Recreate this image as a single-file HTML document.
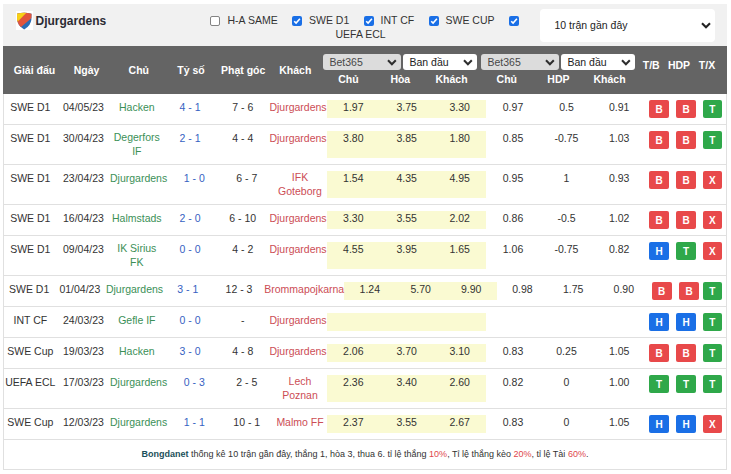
<!DOCTYPE html>
<html><head><meta charset="utf-8"><style>
html,body{margin:0;padding:0;background:#fff;width:731px;height:474px;overflow:hidden;position:relative;font-family:'Liberation Sans', sans-serif}
</style></head><body>
<div style="position:absolute;left:3px;top:4px;width:724px;height:42px;background:#f1f1f1"></div>
<div style="position:absolute;left:16px;top:11px;width:17px;height:19px;background:#fff"></div>
<svg style="position:absolute;left:0;top:0" width="40" height="34" viewBox="0 0 40 34">
<defs><clipPath id="sh"><path d="M17,13.8 Q24.2,11.6 31.5,13.8 L31.4,19.5 Q30.8,25.8 24.2,29.5 Q17.6,25.8 17.1,19.5 Z"/></clipPath></defs>
<g clip-path="url(#sh)">
<rect x="15" y="10" width="20" height="22" fill="#2a6db5"/>
<path d="M15,10 L35,10 L35,15.1 L15,32.1 Z" fill="#e2553c"/>
<path d="M15,10 L29.2,10 L15,24.2 Z" fill="#f7d117"/>
</g></svg>
<div style="position:absolute;left:35.5px;top:14px;font:bold 12px/14px 'Liberation Sans', sans-serif;color:#2b2b33;white-space:nowrap;">Djurgardens</div>
<div style="position:absolute;left:210px;top:16px;width:8px;height:8px;border:1px solid #838383;border-radius:2px;background:#fff"></div>
<div style="position:absolute;left:227.5px;top:14px;font:normal 10.5px/13.5px 'Liberation Sans', sans-serif;color:#333;white-space:nowrap;">H-A SAME</div>
<div style="position:absolute;left:292px;top:16px;width:10px;height:10px;background:#1a6fe6;border-radius:2px"></div>
<svg style="position:absolute;left:292px;top:16px" width="10" height="10" viewBox="0 0 10 10"><path d="M2.2 5.2 L4.1 7.1 L7.9 2.8" fill="none" stroke="#fff" stroke-width="1.6"/></svg>
<div style="position:absolute;left:309px;top:14px;font:normal 10.5px/13.5px 'Liberation Sans', sans-serif;color:#333;white-space:nowrap;">SWE D1</div>
<div style="position:absolute;left:364px;top:16px;width:10px;height:10px;background:#1a6fe6;border-radius:2px"></div>
<svg style="position:absolute;left:364px;top:16px" width="10" height="10" viewBox="0 0 10 10"><path d="M2.2 5.2 L4.1 7.1 L7.9 2.8" fill="none" stroke="#fff" stroke-width="1.6"/></svg>
<div style="position:absolute;left:380.5px;top:14px;font:normal 10.5px/13.5px 'Liberation Sans', sans-serif;color:#333;white-space:nowrap;">INT CF</div>
<div style="position:absolute;left:429px;top:16px;width:10px;height:10px;background:#1a6fe6;border-radius:2px"></div>
<svg style="position:absolute;left:429px;top:16px" width="10" height="10" viewBox="0 0 10 10"><path d="M2.2 5.2 L4.1 7.1 L7.9 2.8" fill="none" stroke="#fff" stroke-width="1.6"/></svg>
<div style="position:absolute;left:445.5px;top:14px;font:normal 10.5px/13.5px 'Liberation Sans', sans-serif;color:#333;white-space:nowrap;">SWE CUP</div>
<div style="position:absolute;left:509px;top:16px;width:10px;height:10px;background:#1a6fe6;border-radius:2px"></div>
<svg style="position:absolute;left:509px;top:16px" width="10" height="10" viewBox="0 0 10 10"><path d="M2.2 5.2 L4.1 7.1 L7.9 2.8" fill="none" stroke="#fff" stroke-width="1.6"/></svg>
<div style="position:absolute;left:335.5px;top:27.5px;font:normal 10.5px/13.5px 'Liberation Sans', sans-serif;color:#333;white-space:nowrap;">UEFA ECL</div>
<div style="position:absolute;left:540px;top:9px;width:175px;height:33px;background:#fff;border-radius:4px"></div>
<div style="position:absolute;left:554.5px;top:19px;font:normal 10.5px/13.5px 'Liberation Sans', sans-serif;color:#222;white-space:nowrap;">10 trận gần đây</div>
<svg style="position:absolute;left:700px;top:21px" width="12" height="9" viewBox="0 0 12 9"><path d="M2,2.3 L6,6.3 L10,2.3" fill="none" stroke="#222" stroke-width="2.1"/></svg>
<div style="position:absolute;left:3px;top:46px;width:724px;height:48px;background:#646464"></div>
<div style="position:absolute;left:-115.5px;top:64px;width:300px;text-align:center;font:bold 10.5px/13.5px 'Liberation Sans', sans-serif;color:#fff;white-space:nowrap;">Giải đấu</div>
<div style="position:absolute;left:-63.5px;top:64px;width:300px;text-align:center;font:bold 10.5px/13.5px 'Liberation Sans', sans-serif;color:#fff;white-space:nowrap;">Ngày</div>
<div style="position:absolute;left:-11.199999999999989px;top:64px;width:300px;text-align:center;font:bold 10.5px/13.5px 'Liberation Sans', sans-serif;color:#fff;white-space:nowrap;">Chủ</div>
<div style="position:absolute;left:41px;top:64px;width:300px;text-align:center;font:bold 10.5px/13.5px 'Liberation Sans', sans-serif;color:#fff;white-space:nowrap;">Tỷ số</div>
<div style="position:absolute;left:93.19999999999999px;top:64px;width:300px;text-align:center;font:bold 10.5px/13.5px 'Liberation Sans', sans-serif;color:#fff;white-space:nowrap;">Phạt góc</div>
<div style="position:absolute;left:145.3px;top:64px;width:300px;text-align:center;font:bold 10.5px/13.5px 'Liberation Sans', sans-serif;color:#fff;white-space:nowrap;">Khách</div>
<div style="position:absolute;left:198.5px;top:72.5px;width:300px;text-align:center;font:bold 10.5px/13.5px 'Liberation Sans', sans-serif;color:#fff;white-space:nowrap;">Chủ</div>
<div style="position:absolute;left:250.3px;top:72.5px;width:300px;text-align:center;font:bold 10.5px/13.5px 'Liberation Sans', sans-serif;color:#fff;white-space:nowrap;">Hòa</div>
<div style="position:absolute;left:301.5px;top:72.5px;width:300px;text-align:center;font:bold 10.5px/13.5px 'Liberation Sans', sans-serif;color:#fff;white-space:nowrap;">Khách</div>
<div style="position:absolute;left:356.8px;top:72.5px;width:300px;text-align:center;font:bold 10.5px/13.5px 'Liberation Sans', sans-serif;color:#fff;white-space:nowrap;">Chủ</div>
<div style="position:absolute;left:408.4px;top:72.5px;width:300px;text-align:center;font:bold 10.5px/13.5px 'Liberation Sans', sans-serif;color:#fff;white-space:nowrap;">HDP</div>
<div style="position:absolute;left:459.5px;top:72.5px;width:300px;text-align:center;font:bold 10.5px/13.5px 'Liberation Sans', sans-serif;color:#fff;white-space:nowrap;">Khách</div>
<div style="position:absolute;left:501.20000000000005px;top:59px;width:300px;text-align:center;font:bold 10.5px/13.5px 'Liberation Sans', sans-serif;color:#fff;white-space:nowrap;">T/B</div>
<div style="position:absolute;left:529px;top:59px;width:300px;text-align:center;font:bold 10.5px/13.5px 'Liberation Sans', sans-serif;color:#fff;white-space:nowrap;">HDP</div>
<div style="position:absolute;left:557px;top:59px;width:300px;text-align:center;font:bold 10.5px/13.5px 'Liberation Sans', sans-serif;color:#fff;white-space:nowrap;">T/X</div>
<div style="position:absolute;left:323px;top:54px;width:78px;height:16px;background:#dcdcdc;border-radius:3px"></div>
<div style="position:absolute;left:329.5px;top:55.5px;font:normal 10.5px/13.5px 'Liberation Sans', sans-serif;color:#484848;white-space:nowrap;">Bet365</div>
<svg style="position:absolute;left:386px;top:58px" width="12" height="9" viewBox="0 0 12 9"><path d="M2,2.3 L5.9,6.3 L9.8,2.3" fill="none" stroke="#2e2e2e" stroke-width="2"/></svg>
<div style="position:absolute;left:403px;top:54px;width:74px;height:16px;background:#fff;border-radius:3px"></div>
<div style="position:absolute;left:409.5px;top:55.5px;font:normal 10.5px/13.5px 'Liberation Sans', sans-serif;color:#222;white-space:nowrap;">Ban đầu</div>
<svg style="position:absolute;left:462px;top:58px" width="12" height="9" viewBox="0 0 12 9"><path d="M2,2.3 L5.9,6.3 L9.8,2.3" fill="none" stroke="#2e2e2e" stroke-width="2"/></svg>
<div style="position:absolute;left:481px;top:54px;width:78px;height:16px;background:#dcdcdc;border-radius:3px"></div>
<div style="position:absolute;left:487.5px;top:55.5px;font:normal 10.5px/13.5px 'Liberation Sans', sans-serif;color:#484848;white-space:nowrap;">Bet365</div>
<svg style="position:absolute;left:544px;top:58px" width="12" height="9" viewBox="0 0 12 9"><path d="M2,2.3 L5.9,6.3 L9.8,2.3" fill="none" stroke="#2e2e2e" stroke-width="2"/></svg>
<div style="position:absolute;left:561px;top:54px;width:74px;height:16px;background:#fff;border-radius:3px"></div>
<div style="position:absolute;left:567.5px;top:55.5px;font:normal 10.5px/13.5px 'Liberation Sans', sans-serif;color:#222;white-space:nowrap;">Ban đầu</div>
<svg style="position:absolute;left:620px;top:58px" width="12" height="9" viewBox="0 0 12 9"><path d="M2,2.3 L5.9,6.3 L9.8,2.3" fill="none" stroke="#2e2e2e" stroke-width="2"/></svg>
<div style="position:absolute;left:3px;top:94px;width:1px;height:376px;background:#e0e0e0"></div>
<div style="position:absolute;left:726px;top:94px;width:1px;height:376px;background:#e0e0e0"></div>
<div style="position:absolute;left:3px;top:124px;width:724px;height:1px;background:#e0e0e0"></div>
<div style="position:absolute;left:3px;top:164px;width:724px;height:1px;background:#e0e0e0"></div>
<div style="position:absolute;left:3px;top:204px;width:724px;height:1px;background:#e0e0e0"></div>
<div style="position:absolute;left:3px;top:235px;width:724px;height:1px;background:#e0e0e0"></div>
<div style="position:absolute;left:3px;top:275px;width:724px;height:1px;background:#e0e0e0"></div>
<div style="position:absolute;left:3px;top:306px;width:724px;height:1px;background:#e0e0e0"></div>
<div style="position:absolute;left:3px;top:337px;width:724px;height:1px;background:#e0e0e0"></div>
<div style="position:absolute;left:3px;top:368px;width:724px;height:1px;background:#e0e0e0"></div>
<div style="position:absolute;left:3px;top:408px;width:724px;height:1px;background:#e0e0e0"></div>
<div style="position:absolute;left:3px;top:439px;width:724px;height:1px;background:#e0e0e0"></div>
<div style="position:absolute;left:3px;top:469px;width:724px;height:1px;background:#e0e0e0"></div>
<div style="position:absolute;left:327px;top:100px;width:159px;height:18px;background:#fafad2"></div>
<div style="position:absolute;left:-119.7px;top:101px;width:300px;text-align:center;font:normal 10.5px/13.5px 'Liberation Sans', sans-serif;color:#333;white-space:nowrap;">SWE D1</div>
<div style="position:absolute;left:-66.6px;top:101px;width:300px;text-align:center;font:normal 10.5px/13.5px 'Liberation Sans', sans-serif;color:#333;white-space:nowrap;">04/05/23</div>
<div style="position:absolute;left:-13.199999999999989px;top:101px;width:300px;text-align:center;font:normal 10.5px/13.5px 'Liberation Sans', sans-serif;color:#3b8f57;white-space:nowrap;">Hacken</div>
<div style="position:absolute;left:40px;top:101px;width:300px;text-align:center;font:normal 10.5px/13.5px 'Liberation Sans', sans-serif;color:#3662c2;white-space:nowrap;">4 - 1</div>
<div style="position:absolute;left:92.80000000000001px;top:101px;width:300px;text-align:center;font:normal 10.5px/13.5px 'Liberation Sans', sans-serif;color:#333;white-space:nowrap;">7 - 6</div>
<div style="position:absolute;left:148px;top:101px;width:300px;text-align:center;font:normal 10.5px/13.5px 'Liberation Sans', sans-serif;color:#cc4d55;white-space:nowrap;">Djurgardens</div>
<div style="position:absolute;left:203.3px;top:101px;width:300px;text-align:center;font:normal 10.5px/13.5px 'Liberation Sans', sans-serif;color:#333;white-space:nowrap;">1.97</div>
<div style="position:absolute;left:256.7px;top:101px;width:300px;text-align:center;font:normal 10.5px/13.5px 'Liberation Sans', sans-serif;color:#333;white-space:nowrap;">3.75</div>
<div style="position:absolute;left:309.7px;top:101px;width:300px;text-align:center;font:normal 10.5px/13.5px 'Liberation Sans', sans-serif;color:#333;white-space:nowrap;">3.30</div>
<div style="position:absolute;left:363px;top:101px;width:300px;text-align:center;font:normal 10.5px/13.5px 'Liberation Sans', sans-serif;color:#333;white-space:nowrap;">0.97</div>
<div style="position:absolute;left:416.5px;top:101px;width:300px;text-align:center;font:normal 10.5px/13.5px 'Liberation Sans', sans-serif;color:#333;white-space:nowrap;">0.5</div>
<div style="position:absolute;left:469.20000000000005px;top:101px;width:300px;text-align:center;font:normal 10.5px/13.5px 'Liberation Sans', sans-serif;color:#333;white-space:nowrap;">0.91</div>
<div style="position:absolute;left:649px;top:100px;width:20px;height:18px;background:#e8494a;border-radius:2px;color:#fff;font:bold 10px/20px 'Liberation Sans', sans-serif;text-align:center">B</div>
<div style="position:absolute;left:676px;top:100px;width:20px;height:18px;background:#e8494a;border-radius:2px;color:#fff;font:bold 10px/20px 'Liberation Sans', sans-serif;text-align:center">B</div>
<div style="position:absolute;left:702.5px;top:100px;width:19.5px;height:18px;background:#2fa84a;border-radius:2px;color:#fff;font:bold 10px/20px 'Liberation Sans', sans-serif;text-align:center">T</div>
<div style="position:absolute;left:327px;top:131px;width:159px;height:27px;background:#fafad2"></div>
<div style="position:absolute;left:-119.7px;top:132px;width:300px;text-align:center;font:normal 10.5px/13.5px 'Liberation Sans', sans-serif;color:#333;white-space:nowrap;">SWE D1</div>
<div style="position:absolute;left:-66.6px;top:132px;width:300px;text-align:center;font:normal 10.5px/13.5px 'Liberation Sans', sans-serif;color:#333;white-space:nowrap;">30/04/23</div>
<div style="position:absolute;left:-13.199999999999989px;top:131.3px;width:300px;text-align:center;font:normal 10.5px/13.5px 'Liberation Sans', sans-serif;color:#3b8f57;white-space:nowrap;">Degerfors<br>IF</div>
<div style="position:absolute;left:40px;top:132px;width:300px;text-align:center;font:normal 10.5px/13.5px 'Liberation Sans', sans-serif;color:#3662c2;white-space:nowrap;">2 - 1</div>
<div style="position:absolute;left:92.80000000000001px;top:132px;width:300px;text-align:center;font:normal 10.5px/13.5px 'Liberation Sans', sans-serif;color:#333;white-space:nowrap;">4 - 4</div>
<div style="position:absolute;left:148px;top:132px;width:300px;text-align:center;font:normal 10.5px/13.5px 'Liberation Sans', sans-serif;color:#cc4d55;white-space:nowrap;">Djurgardens</div>
<div style="position:absolute;left:203.3px;top:132px;width:300px;text-align:center;font:normal 10.5px/13.5px 'Liberation Sans', sans-serif;color:#333;white-space:nowrap;">3.80</div>
<div style="position:absolute;left:256.7px;top:132px;width:300px;text-align:center;font:normal 10.5px/13.5px 'Liberation Sans', sans-serif;color:#333;white-space:nowrap;">3.85</div>
<div style="position:absolute;left:309.7px;top:132px;width:300px;text-align:center;font:normal 10.5px/13.5px 'Liberation Sans', sans-serif;color:#333;white-space:nowrap;">1.80</div>
<div style="position:absolute;left:363px;top:132px;width:300px;text-align:center;font:normal 10.5px/13.5px 'Liberation Sans', sans-serif;color:#333;white-space:nowrap;">0.85</div>
<div style="position:absolute;left:416.5px;top:132px;width:300px;text-align:center;font:normal 10.5px/13.5px 'Liberation Sans', sans-serif;color:#333;white-space:nowrap;">-0.75</div>
<div style="position:absolute;left:469.20000000000005px;top:132px;width:300px;text-align:center;font:normal 10.5px/13.5px 'Liberation Sans', sans-serif;color:#333;white-space:nowrap;">1.03</div>
<div style="position:absolute;left:649px;top:131px;width:20px;height:18px;background:#e8494a;border-radius:2px;color:#fff;font:bold 10px/20px 'Liberation Sans', sans-serif;text-align:center">B</div>
<div style="position:absolute;left:676px;top:131px;width:20px;height:18px;background:#e8494a;border-radius:2px;color:#fff;font:bold 10px/20px 'Liberation Sans', sans-serif;text-align:center">B</div>
<div style="position:absolute;left:702.5px;top:131px;width:19.5px;height:18px;background:#2fa84a;border-radius:2px;color:#fff;font:bold 10px/20px 'Liberation Sans', sans-serif;text-align:center">T</div>
<div style="position:absolute;left:327px;top:171px;width:159px;height:27px;background:#fafad2"></div>
<div style="position:absolute;left:-119.7px;top:172px;width:300px;text-align:center;font:normal 10.5px/13.5px 'Liberation Sans', sans-serif;color:#333;white-space:nowrap;">SWE D1</div>
<div style="position:absolute;left:-66.6px;top:172px;width:300px;text-align:center;font:normal 10.5px/13.5px 'Liberation Sans', sans-serif;color:#333;white-space:nowrap;">23/04/23</div>
<div style="position:absolute;left:-11.400000000000006px;top:172px;width:300px;text-align:center;font:normal 10.5px/13.5px 'Liberation Sans', sans-serif;color:#3b8f57;white-space:nowrap;">Djurgardens</div>
<div style="position:absolute;left:44.30000000000001px;top:172px;width:300px;text-align:center;font:normal 10.5px/13.5px 'Liberation Sans', sans-serif;color:#3662c2;white-space:nowrap;">1 - 0</div>
<div style="position:absolute;left:96.80000000000001px;top:172px;width:300px;text-align:center;font:normal 10.5px/13.5px 'Liberation Sans', sans-serif;color:#333;white-space:nowrap;">6 - 7</div>
<div style="position:absolute;left:150px;top:171.3px;width:300px;text-align:center;font:normal 10.5px/13.5px 'Liberation Sans', sans-serif;color:#cc4d55;white-space:nowrap;">IFK<br>Goteborg</div>
<div style="position:absolute;left:203.3px;top:172px;width:300px;text-align:center;font:normal 10.5px/13.5px 'Liberation Sans', sans-serif;color:#333;white-space:nowrap;">1.54</div>
<div style="position:absolute;left:256.7px;top:172px;width:300px;text-align:center;font:normal 10.5px/13.5px 'Liberation Sans', sans-serif;color:#333;white-space:nowrap;">4.35</div>
<div style="position:absolute;left:309.7px;top:172px;width:300px;text-align:center;font:normal 10.5px/13.5px 'Liberation Sans', sans-serif;color:#333;white-space:nowrap;">4.95</div>
<div style="position:absolute;left:363px;top:172px;width:300px;text-align:center;font:normal 10.5px/13.5px 'Liberation Sans', sans-serif;color:#333;white-space:nowrap;">0.95</div>
<div style="position:absolute;left:416.5px;top:172px;width:300px;text-align:center;font:normal 10.5px/13.5px 'Liberation Sans', sans-serif;color:#333;white-space:nowrap;">1</div>
<div style="position:absolute;left:469.20000000000005px;top:172px;width:300px;text-align:center;font:normal 10.5px/13.5px 'Liberation Sans', sans-serif;color:#333;white-space:nowrap;">0.93</div>
<div style="position:absolute;left:649px;top:171px;width:20px;height:18px;background:#e8494a;border-radius:2px;color:#fff;font:bold 10px/20px 'Liberation Sans', sans-serif;text-align:center">B</div>
<div style="position:absolute;left:676px;top:171px;width:20px;height:18px;background:#e8494a;border-radius:2px;color:#fff;font:bold 10px/20px 'Liberation Sans', sans-serif;text-align:center">B</div>
<div style="position:absolute;left:702.5px;top:171px;width:19.5px;height:18px;background:#e8494a;border-radius:2px;color:#fff;font:bold 10px/20px 'Liberation Sans', sans-serif;text-align:center">X</div>
<div style="position:absolute;left:327px;top:211px;width:159px;height:18px;background:#fafad2"></div>
<div style="position:absolute;left:-119.7px;top:212px;width:300px;text-align:center;font:normal 10.5px/13.5px 'Liberation Sans', sans-serif;color:#333;white-space:nowrap;">SWE D1</div>
<div style="position:absolute;left:-66.6px;top:212px;width:300px;text-align:center;font:normal 10.5px/13.5px 'Liberation Sans', sans-serif;color:#333;white-space:nowrap;">16/04/23</div>
<div style="position:absolute;left:-13.199999999999989px;top:212px;width:300px;text-align:center;font:normal 10.5px/13.5px 'Liberation Sans', sans-serif;color:#3b8f57;white-space:nowrap;">Halmstads</div>
<div style="position:absolute;left:40px;top:212px;width:300px;text-align:center;font:normal 10.5px/13.5px 'Liberation Sans', sans-serif;color:#3662c2;white-space:nowrap;">2 - 0</div>
<div style="position:absolute;left:92.80000000000001px;top:212px;width:300px;text-align:center;font:normal 10.5px/13.5px 'Liberation Sans', sans-serif;color:#333;white-space:nowrap;">6 - 10</div>
<div style="position:absolute;left:148px;top:212px;width:300px;text-align:center;font:normal 10.5px/13.5px 'Liberation Sans', sans-serif;color:#cc4d55;white-space:nowrap;">Djurgardens</div>
<div style="position:absolute;left:203.3px;top:212px;width:300px;text-align:center;font:normal 10.5px/13.5px 'Liberation Sans', sans-serif;color:#333;white-space:nowrap;">3.30</div>
<div style="position:absolute;left:256.7px;top:212px;width:300px;text-align:center;font:normal 10.5px/13.5px 'Liberation Sans', sans-serif;color:#333;white-space:nowrap;">3.55</div>
<div style="position:absolute;left:309.7px;top:212px;width:300px;text-align:center;font:normal 10.5px/13.5px 'Liberation Sans', sans-serif;color:#333;white-space:nowrap;">2.02</div>
<div style="position:absolute;left:363px;top:212px;width:300px;text-align:center;font:normal 10.5px/13.5px 'Liberation Sans', sans-serif;color:#333;white-space:nowrap;">0.86</div>
<div style="position:absolute;left:416.5px;top:212px;width:300px;text-align:center;font:normal 10.5px/13.5px 'Liberation Sans', sans-serif;color:#333;white-space:nowrap;">-0.5</div>
<div style="position:absolute;left:469.20000000000005px;top:212px;width:300px;text-align:center;font:normal 10.5px/13.5px 'Liberation Sans', sans-serif;color:#333;white-space:nowrap;">1.02</div>
<div style="position:absolute;left:649px;top:211px;width:20px;height:18px;background:#e8494a;border-radius:2px;color:#fff;font:bold 10px/20px 'Liberation Sans', sans-serif;text-align:center">B</div>
<div style="position:absolute;left:676px;top:211px;width:20px;height:18px;background:#e8494a;border-radius:2px;color:#fff;font:bold 10px/20px 'Liberation Sans', sans-serif;text-align:center">B</div>
<div style="position:absolute;left:702.5px;top:211px;width:19.5px;height:18px;background:#e8494a;border-radius:2px;color:#fff;font:bold 10px/20px 'Liberation Sans', sans-serif;text-align:center">X</div>
<div style="position:absolute;left:327px;top:242px;width:159px;height:27px;background:#fafad2"></div>
<div style="position:absolute;left:-119.7px;top:243px;width:300px;text-align:center;font:normal 10.5px/13.5px 'Liberation Sans', sans-serif;color:#333;white-space:nowrap;">SWE D1</div>
<div style="position:absolute;left:-66.6px;top:243px;width:300px;text-align:center;font:normal 10.5px/13.5px 'Liberation Sans', sans-serif;color:#333;white-space:nowrap;">09/04/23</div>
<div style="position:absolute;left:-13.199999999999989px;top:242.3px;width:300px;text-align:center;font:normal 10.5px/13.5px 'Liberation Sans', sans-serif;color:#3b8f57;white-space:nowrap;">IK Sirius<br>FK</div>
<div style="position:absolute;left:40px;top:243px;width:300px;text-align:center;font:normal 10.5px/13.5px 'Liberation Sans', sans-serif;color:#3662c2;white-space:nowrap;">0 - 0</div>
<div style="position:absolute;left:92.80000000000001px;top:243px;width:300px;text-align:center;font:normal 10.5px/13.5px 'Liberation Sans', sans-serif;color:#333;white-space:nowrap;">4 - 2</div>
<div style="position:absolute;left:148px;top:243px;width:300px;text-align:center;font:normal 10.5px/13.5px 'Liberation Sans', sans-serif;color:#cc4d55;white-space:nowrap;">Djurgardens</div>
<div style="position:absolute;left:203.3px;top:243px;width:300px;text-align:center;font:normal 10.5px/13.5px 'Liberation Sans', sans-serif;color:#333;white-space:nowrap;">4.55</div>
<div style="position:absolute;left:256.7px;top:243px;width:300px;text-align:center;font:normal 10.5px/13.5px 'Liberation Sans', sans-serif;color:#333;white-space:nowrap;">3.95</div>
<div style="position:absolute;left:309.7px;top:243px;width:300px;text-align:center;font:normal 10.5px/13.5px 'Liberation Sans', sans-serif;color:#333;white-space:nowrap;">1.65</div>
<div style="position:absolute;left:363px;top:243px;width:300px;text-align:center;font:normal 10.5px/13.5px 'Liberation Sans', sans-serif;color:#333;white-space:nowrap;">1.06</div>
<div style="position:absolute;left:416.5px;top:243px;width:300px;text-align:center;font:normal 10.5px/13.5px 'Liberation Sans', sans-serif;color:#333;white-space:nowrap;">-0.75</div>
<div style="position:absolute;left:469.20000000000005px;top:243px;width:300px;text-align:center;font:normal 10.5px/13.5px 'Liberation Sans', sans-serif;color:#333;white-space:nowrap;">0.82</div>
<div style="position:absolute;left:649px;top:242px;width:20px;height:18px;background:#1a6fe6;border-radius:2px;color:#fff;font:bold 10px/20px 'Liberation Sans', sans-serif;text-align:center">H</div>
<div style="position:absolute;left:676px;top:242px;width:20px;height:18px;background:#2fa84a;border-radius:2px;color:#fff;font:bold 10px/20px 'Liberation Sans', sans-serif;text-align:center">T</div>
<div style="position:absolute;left:702.5px;top:242px;width:19.5px;height:18px;background:#e8494a;border-radius:2px;color:#fff;font:bold 10px/20px 'Liberation Sans', sans-serif;text-align:center">X</div>
<div style="position:absolute;left:344.4px;top:282px;width:152.5px;height:18px;background:#fafad2"></div>
<div style="position:absolute;left:-120.9px;top:283px;width:300px;text-align:center;font:normal 10.5px/13.5px 'Liberation Sans', sans-serif;color:#333;white-space:nowrap;">SWE D1</div>
<div style="position:absolute;left:-70.2px;top:283px;width:300px;text-align:center;font:normal 10.5px/13.5px 'Liberation Sans', sans-serif;color:#333;white-space:nowrap;">01/04/23</div>
<div style="position:absolute;left:-15.5px;top:283px;width:300px;text-align:center;font:normal 10.5px/13.5px 'Liberation Sans', sans-serif;color:#3b8f57;white-space:nowrap;">Djurgardens</div>
<div style="position:absolute;left:37.80000000000001px;top:283px;width:300px;text-align:center;font:normal 10.5px/13.5px 'Liberation Sans', sans-serif;color:#3662c2;white-space:nowrap;">3 - 1</div>
<div style="position:absolute;left:89px;top:283px;width:300px;text-align:center;font:normal 10.5px/13.5px 'Liberation Sans', sans-serif;color:#333;white-space:nowrap;">12 - 3</div>
<div style="position:absolute;left:154.2px;top:283px;width:300px;text-align:center;font:normal 10.5px/13.5px 'Liberation Sans', sans-serif;color:#cc4d55;white-space:nowrap;">Brommapojkarna</div>
<div style="position:absolute;left:219.8px;top:283px;width:300px;text-align:center;font:normal 10.5px/13.5px 'Liberation Sans', sans-serif;color:#333;white-space:nowrap;">1.24</div>
<div style="position:absolute;left:270.7px;top:283px;width:300px;text-align:center;font:normal 10.5px/13.5px 'Liberation Sans', sans-serif;color:#333;white-space:nowrap;">5.70</div>
<div style="position:absolute;left:321.2px;top:283px;width:300px;text-align:center;font:normal 10.5px/13.5px 'Liberation Sans', sans-serif;color:#333;white-space:nowrap;">9.90</div>
<div style="position:absolute;left:372.4px;top:283px;width:300px;text-align:center;font:normal 10.5px/13.5px 'Liberation Sans', sans-serif;color:#333;white-space:nowrap;">0.98</div>
<div style="position:absolute;left:423.20000000000005px;top:283px;width:300px;text-align:center;font:normal 10.5px/13.5px 'Liberation Sans', sans-serif;color:#333;white-space:nowrap;">1.75</div>
<div style="position:absolute;left:473.79999999999995px;top:283px;width:300px;text-align:center;font:normal 10.5px/13.5px 'Liberation Sans', sans-serif;color:#333;white-space:nowrap;">0.90</div>
<div style="position:absolute;left:651.7px;top:282px;width:20px;height:18px;background:#e8494a;border-radius:2px;color:#fff;font:bold 10px/20px 'Liberation Sans', sans-serif;text-align:center">B</div>
<div style="position:absolute;left:679.2px;top:282px;width:20px;height:18px;background:#e8494a;border-radius:2px;color:#fff;font:bold 10px/20px 'Liberation Sans', sans-serif;text-align:center">B</div>
<div style="position:absolute;left:702.5px;top:282px;width:19.5px;height:18px;background:#2fa84a;border-radius:2px;color:#fff;font:bold 10px/20px 'Liberation Sans', sans-serif;text-align:center">T</div>
<div style="position:absolute;left:327px;top:313px;width:159px;height:18px;background:#fafad2"></div>
<div style="position:absolute;left:-119.7px;top:314px;width:300px;text-align:center;font:normal 10.5px/13.5px 'Liberation Sans', sans-serif;color:#333;white-space:nowrap;">INT CF</div>
<div style="position:absolute;left:-66.6px;top:314px;width:300px;text-align:center;font:normal 10.5px/13.5px 'Liberation Sans', sans-serif;color:#333;white-space:nowrap;">24/03/23</div>
<div style="position:absolute;left:-13.199999999999989px;top:314px;width:300px;text-align:center;font:normal 10.5px/13.5px 'Liberation Sans', sans-serif;color:#3b8f57;white-space:nowrap;">Gefle IF</div>
<div style="position:absolute;left:40px;top:314px;width:300px;text-align:center;font:normal 10.5px/13.5px 'Liberation Sans', sans-serif;color:#3662c2;white-space:nowrap;">0 - 0</div>
<div style="position:absolute;left:92.80000000000001px;top:314px;width:300px;text-align:center;font:normal 10.5px/13.5px 'Liberation Sans', sans-serif;color:#333;white-space:nowrap;">-</div>
<div style="position:absolute;left:148px;top:314px;width:300px;text-align:center;font:normal 10.5px/13.5px 'Liberation Sans', sans-serif;color:#cc4d55;white-space:nowrap;">Djurgardens</div>
<div style="position:absolute;left:649px;top:313px;width:20px;height:18px;background:#1a6fe6;border-radius:2px;color:#fff;font:bold 10px/20px 'Liberation Sans', sans-serif;text-align:center">H</div>
<div style="position:absolute;left:676px;top:313px;width:20px;height:18px;background:#1a6fe6;border-radius:2px;color:#fff;font:bold 10px/20px 'Liberation Sans', sans-serif;text-align:center">H</div>
<div style="position:absolute;left:702.5px;top:313px;width:19.5px;height:18px;background:#2fa84a;border-radius:2px;color:#fff;font:bold 10px/20px 'Liberation Sans', sans-serif;text-align:center">T</div>
<div style="position:absolute;left:327px;top:344px;width:159px;height:18px;background:#fafad2"></div>
<div style="position:absolute;left:-119.7px;top:345px;width:300px;text-align:center;font:normal 10.5px/13.5px 'Liberation Sans', sans-serif;color:#333;white-space:nowrap;">SWE Cup</div>
<div style="position:absolute;left:-66.6px;top:345px;width:300px;text-align:center;font:normal 10.5px/13.5px 'Liberation Sans', sans-serif;color:#333;white-space:nowrap;">19/03/23</div>
<div style="position:absolute;left:-13.199999999999989px;top:345px;width:300px;text-align:center;font:normal 10.5px/13.5px 'Liberation Sans', sans-serif;color:#3b8f57;white-space:nowrap;">Hacken</div>
<div style="position:absolute;left:40px;top:345px;width:300px;text-align:center;font:normal 10.5px/13.5px 'Liberation Sans', sans-serif;color:#3662c2;white-space:nowrap;">3 - 0</div>
<div style="position:absolute;left:92.80000000000001px;top:345px;width:300px;text-align:center;font:normal 10.5px/13.5px 'Liberation Sans', sans-serif;color:#333;white-space:nowrap;">4 - 8</div>
<div style="position:absolute;left:148px;top:345px;width:300px;text-align:center;font:normal 10.5px/13.5px 'Liberation Sans', sans-serif;color:#cc4d55;white-space:nowrap;">Djurgardens</div>
<div style="position:absolute;left:203.3px;top:345px;width:300px;text-align:center;font:normal 10.5px/13.5px 'Liberation Sans', sans-serif;color:#333;white-space:nowrap;">2.06</div>
<div style="position:absolute;left:256.7px;top:345px;width:300px;text-align:center;font:normal 10.5px/13.5px 'Liberation Sans', sans-serif;color:#333;white-space:nowrap;">3.70</div>
<div style="position:absolute;left:309.7px;top:345px;width:300px;text-align:center;font:normal 10.5px/13.5px 'Liberation Sans', sans-serif;color:#333;white-space:nowrap;">3.10</div>
<div style="position:absolute;left:363px;top:345px;width:300px;text-align:center;font:normal 10.5px/13.5px 'Liberation Sans', sans-serif;color:#333;white-space:nowrap;">0.83</div>
<div style="position:absolute;left:416.5px;top:345px;width:300px;text-align:center;font:normal 10.5px/13.5px 'Liberation Sans', sans-serif;color:#333;white-space:nowrap;">0.25</div>
<div style="position:absolute;left:469.20000000000005px;top:345px;width:300px;text-align:center;font:normal 10.5px/13.5px 'Liberation Sans', sans-serif;color:#333;white-space:nowrap;">1.05</div>
<div style="position:absolute;left:649px;top:344px;width:20px;height:18px;background:#e8494a;border-radius:2px;color:#fff;font:bold 10px/20px 'Liberation Sans', sans-serif;text-align:center">B</div>
<div style="position:absolute;left:676px;top:344px;width:20px;height:18px;background:#e8494a;border-radius:2px;color:#fff;font:bold 10px/20px 'Liberation Sans', sans-serif;text-align:center">B</div>
<div style="position:absolute;left:702.5px;top:344px;width:19.5px;height:18px;background:#2fa84a;border-radius:2px;color:#fff;font:bold 10px/20px 'Liberation Sans', sans-serif;text-align:center">T</div>
<div style="position:absolute;left:327px;top:375px;width:159px;height:27px;background:#fafad2"></div>
<div style="position:absolute;left:-119.7px;top:376px;width:300px;text-align:center;font:normal 10.5px/13.5px 'Liberation Sans', sans-serif;color:#333;white-space:nowrap;">UEFA ECL</div>
<div style="position:absolute;left:-66.6px;top:376px;width:300px;text-align:center;font:normal 10.5px/13.5px 'Liberation Sans', sans-serif;color:#333;white-space:nowrap;">17/03/23</div>
<div style="position:absolute;left:-11.400000000000006px;top:376px;width:300px;text-align:center;font:normal 10.5px/13.5px 'Liberation Sans', sans-serif;color:#3b8f57;white-space:nowrap;">Djurgardens</div>
<div style="position:absolute;left:44.30000000000001px;top:376px;width:300px;text-align:center;font:normal 10.5px/13.5px 'Liberation Sans', sans-serif;color:#3662c2;white-space:nowrap;">0 - 3</div>
<div style="position:absolute;left:96.80000000000001px;top:376px;width:300px;text-align:center;font:normal 10.5px/13.5px 'Liberation Sans', sans-serif;color:#333;white-space:nowrap;">2 - 5</div>
<div style="position:absolute;left:150px;top:375.3px;width:300px;text-align:center;font:normal 10.5px/13.5px 'Liberation Sans', sans-serif;color:#cc4d55;white-space:nowrap;">Lech<br>Poznan</div>
<div style="position:absolute;left:203.3px;top:376px;width:300px;text-align:center;font:normal 10.5px/13.5px 'Liberation Sans', sans-serif;color:#333;white-space:nowrap;">2.36</div>
<div style="position:absolute;left:256.7px;top:376px;width:300px;text-align:center;font:normal 10.5px/13.5px 'Liberation Sans', sans-serif;color:#333;white-space:nowrap;">3.40</div>
<div style="position:absolute;left:309.7px;top:376px;width:300px;text-align:center;font:normal 10.5px/13.5px 'Liberation Sans', sans-serif;color:#333;white-space:nowrap;">2.60</div>
<div style="position:absolute;left:363px;top:376px;width:300px;text-align:center;font:normal 10.5px/13.5px 'Liberation Sans', sans-serif;color:#333;white-space:nowrap;">0.82</div>
<div style="position:absolute;left:416.5px;top:376px;width:300px;text-align:center;font:normal 10.5px/13.5px 'Liberation Sans', sans-serif;color:#333;white-space:nowrap;">0</div>
<div style="position:absolute;left:469.20000000000005px;top:376px;width:300px;text-align:center;font:normal 10.5px/13.5px 'Liberation Sans', sans-serif;color:#333;white-space:nowrap;">1.00</div>
<div style="position:absolute;left:649px;top:375px;width:20px;height:18px;background:#2fa84a;border-radius:2px;color:#fff;font:bold 10px/20px 'Liberation Sans', sans-serif;text-align:center">T</div>
<div style="position:absolute;left:676px;top:375px;width:20px;height:18px;background:#2fa84a;border-radius:2px;color:#fff;font:bold 10px/20px 'Liberation Sans', sans-serif;text-align:center">T</div>
<div style="position:absolute;left:702.5px;top:375px;width:19.5px;height:18px;background:#2fa84a;border-radius:2px;color:#fff;font:bold 10px/20px 'Liberation Sans', sans-serif;text-align:center">T</div>
<div style="position:absolute;left:327px;top:415px;width:159px;height:18px;background:#fafad2"></div>
<div style="position:absolute;left:-119.7px;top:416px;width:300px;text-align:center;font:normal 10.5px/13.5px 'Liberation Sans', sans-serif;color:#333;white-space:nowrap;">SWE Cup</div>
<div style="position:absolute;left:-66.6px;top:416px;width:300px;text-align:center;font:normal 10.5px/13.5px 'Liberation Sans', sans-serif;color:#333;white-space:nowrap;">12/03/23</div>
<div style="position:absolute;left:-11.400000000000006px;top:416px;width:300px;text-align:center;font:normal 10.5px/13.5px 'Liberation Sans', sans-serif;color:#3b8f57;white-space:nowrap;">Djurgardens</div>
<div style="position:absolute;left:44.30000000000001px;top:416px;width:300px;text-align:center;font:normal 10.5px/13.5px 'Liberation Sans', sans-serif;color:#3662c2;white-space:nowrap;">1 - 1</div>
<div style="position:absolute;left:96.80000000000001px;top:416px;width:300px;text-align:center;font:normal 10.5px/13.5px 'Liberation Sans', sans-serif;color:#333;white-space:nowrap;">10 - 1</div>
<div style="position:absolute;left:150px;top:416px;width:300px;text-align:center;font:normal 10.5px/13.5px 'Liberation Sans', sans-serif;color:#cc4d55;white-space:nowrap;">Malmo FF</div>
<div style="position:absolute;left:203.3px;top:416px;width:300px;text-align:center;font:normal 10.5px/13.5px 'Liberation Sans', sans-serif;color:#333;white-space:nowrap;">2.37</div>
<div style="position:absolute;left:256.7px;top:416px;width:300px;text-align:center;font:normal 10.5px/13.5px 'Liberation Sans', sans-serif;color:#333;white-space:nowrap;">3.55</div>
<div style="position:absolute;left:309.7px;top:416px;width:300px;text-align:center;font:normal 10.5px/13.5px 'Liberation Sans', sans-serif;color:#333;white-space:nowrap;">2.67</div>
<div style="position:absolute;left:363px;top:416px;width:300px;text-align:center;font:normal 10.5px/13.5px 'Liberation Sans', sans-serif;color:#333;white-space:nowrap;">0.83</div>
<div style="position:absolute;left:416.5px;top:416px;width:300px;text-align:center;font:normal 10.5px/13.5px 'Liberation Sans', sans-serif;color:#333;white-space:nowrap;">0</div>
<div style="position:absolute;left:469.20000000000005px;top:416px;width:300px;text-align:center;font:normal 10.5px/13.5px 'Liberation Sans', sans-serif;color:#333;white-space:nowrap;">1.05</div>
<div style="position:absolute;left:649px;top:415px;width:20px;height:18px;background:#1a6fe6;border-radius:2px;color:#fff;font:bold 10px/20px 'Liberation Sans', sans-serif;text-align:center">H</div>
<div style="position:absolute;left:676px;top:415px;width:20px;height:18px;background:#1a6fe6;border-radius:2px;color:#fff;font:bold 10px/20px 'Liberation Sans', sans-serif;text-align:center">H</div>
<div style="position:absolute;left:702.5px;top:415px;width:19.5px;height:18px;background:#e8494a;border-radius:2px;color:#fff;font:bold 10px/20px 'Liberation Sans', sans-serif;text-align:center">X</div>
<div style="position:absolute;left:3px;top:447.5px;width:724px;text-align:center;font:9px/12px 'Liberation Sans', sans-serif;color:#333;white-space:nowrap"><b style="color:#1b4f5a">Bongdanet</b> thống kê 10 trận gần đây, thắng 1, hòa 3, thua 6. tỉ lệ thắng <span style="color:#e0474c">10%</span>, Tỉ lệ thắng kèo <span style="color:#e0474c">20%</span>, tỉ lệ Tài <span style="color:#e0474c">60%</span>.</div>
</body></html>
